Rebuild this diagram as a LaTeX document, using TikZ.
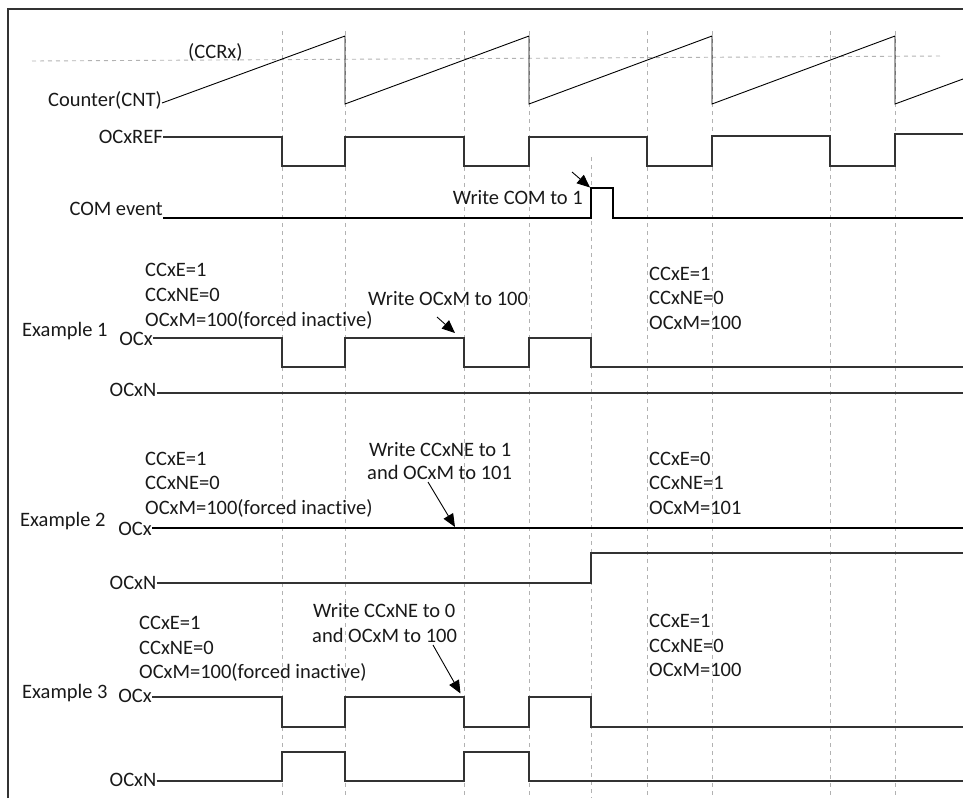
\documentclass[tikz,border=0pt]{standalone}
\usepackage{fontspec}
\setmainfont{Carlito}[Ligatures={NoCommon}]
\usetikzlibrary{arrows.meta}
\begin{document}
\begin{tikzpicture}[x=1pt,y=-1pt,
  txt/.style={inner sep=0pt, font=\fontsize{20.5}{25}\selectfont, text=black!90},
  sig/.style={txt, anchor=base east},
  note/.style={txt, anchor=base west},
  frameline/.style={draw=black!80, line width=1.2pt},
  gridline/.style={draw=black!30, line width=0.9pt, dash pattern=on 4pt off 4pt},
  wave/.style={draw=black!80, line width=1.1pt},
  saw/.style={draw=black, line width=0.9pt},
  ptr/.style={draw=black, line width=0.9pt, -{Triangle[length=13pt,width=11pt]}}
]
\useasboundingbox (0,0) rectangle (963,798);
% frame
\draw[frameline] (8,798) -- (8,9) -- (963,9);
% dashed time grid
\foreach \t in {282,345,464,529,647,712,830,895}
  \draw[gridline] (\t,31) -- (\t,798);
\draw[gridline] (591,157) -- (591,798);
% CCRx level
\draw[gridline] (32,61) -- (940,56);

% ---- counter ----
\node[note] (ccr) at (188,58) {(CCRx)};
\node[sig] (cnt) at (162,106) {Counter(CNT)};
\draw[saw] (cnt.base east |- 0,103) -- (345,36) -- (345,104) -- (529,36) -- (529,104)
  -- (712,36) -- (712,104) -- (895,36) -- (895,104) -- (963,79);

% ---- OCxREF ----
\node[sig] (ref) at (163,143) {OCxREF};
\draw[wave] (ref.base east |- 0,137) -- (282,137) -- (282,166) -- (345,166) -- (345,137)
  -- (464,137) -- (464,166) -- (529,166) -- (529,137) -- (647,137) -- (647,166)
  -- (712,166) -- (712,136) -- (830,136) -- (830,166) -- (895,166) -- (895,134) -- (963,134);

% ---- COM event ----
\node[sig] (com) at (163,215) {COM event};
\draw[wave, draw=black] (com.base east |- 0,218) -- (591,218) -- (591,188) -- (613,188) -- (613,218) -- (963,218);
\node[sig] (comw) at (583,204) {Write COM to 1};
\coordinate (comA) at (572,172);
\coordinate (comB) at (590,187.5);
\draw[ptr] (comA) -- (comB);

% ---- Example 1 ----
\node[note] (e1a) at (145,276) {CCxE=1};
\node[note] (e1b) at (145,301) {CCxNE=0};
\node[note] (e1c) at (145,326) {OCxM=100(forced inactive)};
\node[note] (e1) at (22,336) {Example 1};
\node[sig] (ocx1) at (153,345) {OCx};
\node[note] (w1) at (368,305) {Write OCxM to 100};
\node[note] (r1a) at (649,280.5) {CCxE=1};
\node[note] (r1b) at (649,304.5) {CCxNE=0};
\node[note] (r1c) at (649,329) {OCxM=100};
\draw[wave] (ocx1.base east |- 0,338) -- (282,338) -- (282,367) -- (345,367) -- (345,338)
  -- (464,338) -- (464,367) -- (529,367) -- (529,338) -- (591,338) -- (591,367) -- (963,367);
\coordinate (a1s) at (437,317);
\coordinate (a1e) at (455,333);
\draw[ptr] (a1s) -- (a1e);
\node[sig] (ocxn1) at (156.5,396) {OCxN};
\draw[wave] (ocxn1.base east |- 0,393) -- (963,393);

% ---- Example 2 ----
\node[note] (e2a) at (145,465.5) {CCxE=1};
\node[note] (e2b) at (145,489.5) {CCxNE=0};
\node[note] (e2c) at (145,514) {OCxM=100(forced inactive)};
\node[note] (e2) at (20,526) {Example 2};
\node[sig] (ocx2) at (152,535) {OCx};
\node[note] (w2a) at (369,456) {Write CCxNE to 1};
\node[note] (w2b) at (367,479.5) {and OCxM to 101};
\node[note] (r2a) at (649,465.5) {CCxE=0};
\node[note] (r2b) at (649,489.5) {CCxNE=1};
\node[note] (r2c) at (649,514) {OCxM=101};
\draw[wave, draw=black] (ocx2.base east |- 0,528) -- (963,528);
\coordinate (a2s) at (428,482);
\coordinate (a2e) at (455,527);
\draw[ptr] (a2s) -- (a2e);
\node[sig] (ocxn2) at (156.5,589) {OCxN};
\draw[wave] (ocxn2.base east |- 0,583) -- (591,583) -- (591,553) -- (963,553);

% ---- Example 3 ----
\node[note] (e3a) at (139,629) {CCxE=1};
\node[note] (e3b) at (139,654) {CCxNE=0};
\node[note] (e3c) at (139,678) {OCxM=100(forced inactive)};
\node[note] (e3) at (22,698) {Example 3};
\node[sig] (ocx3) at (152,702) {OCx};
\node[note] (w3a) at (313,617) {Write CCxNE to 0};
\node[note] (w3b) at (312,642) {and OCxM to 100};
\node[note] (r3a) at (649,627) {CCxE=1};
\node[note] (r3b) at (649,652) {CCxNE=0};
\node[note] (r3c) at (649,676) {OCxM=100};
\draw[wave] (ocx3.base east |- 0,697) -- (282,697) -- (282,727) -- (345,727) -- (345,697)
  -- (464,697) -- (464,727) -- (529,727) -- (529,697) -- (591,697) -- (591,727) -- (963,727);
\coordinate (a3s) at (433,645);
\coordinate (a3e) at (460.5,693.5);
\draw[ptr] (a3s) -- (a3e);
\node[sig] (ocxn3) at (156.5,786) {OCxN};
\draw[wave] (ocxn3.base east |- 0,781) -- (282,781) -- (282,752) -- (345,752) -- (345,781)
  -- (464,781) -- (464,752) -- (529,752) -- (529,781) -- (963,781);
\end{tikzpicture}
\end{document}
